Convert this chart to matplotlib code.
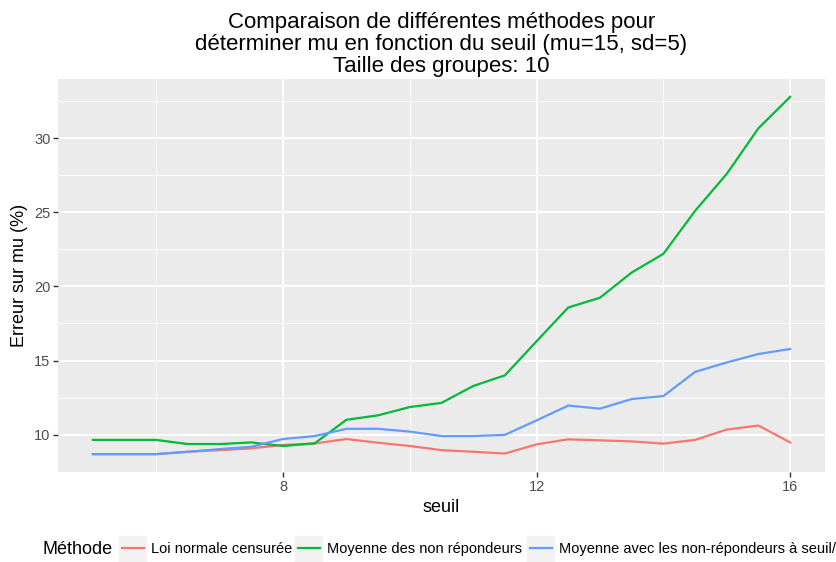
import matplotlib
matplotlib.use("Agg")
import matplotlib.pyplot as plt
from matplotlib.lines import Line2D
from matplotlib.patches import Rectangle

plt.rcParams['font.family'] = ['Liberation Sans', 'DejaVu Sans']

seuil = [5, 5.5, 6, 6.5, 7, 7.5, 8, 8.5, 9, 9.5, 10, 10.5, 11, 11.5, 12,
         12.5, 13, 13.5, 14, 14.5, 15, 15.5, 16]
loi_normale = [8.68, 8.68, 8.68, 8.84, 8.95, 9.07, 9.30, 9.40, 9.70, 9.45, 9.23,
               8.95, 8.84, 8.72, 9.34, 9.68, 9.61, 9.54, 9.39, 9.64, 10.34, 10.61, 9.47]
moy_non_rep = [9.64, 9.64, 9.64, 9.36, 9.36, 9.47, 9.23, 9.41, 11.0, 11.3, 11.86,
               12.14, 13.28, 14.0, 16.3, 18.58, 19.24, 20.94, 22.2, 25.1, 27.6, 30.68, 32.8]
moy_avec = [8.68, 8.68, 8.68, 8.84, 9.02, 9.18, 9.70, 9.90, 10.39, 10.39, 10.2,
            9.90, 9.90, 9.98, 10.96, 11.96, 11.75, 12.4, 12.6, 14.23, 14.87, 15.44, 15.78]

labels = ["Loi normale censurée", "Moyenne des non répondeurs",
          "Moyenne avec les non-répondeurs à seuil/"]
colors = ["#F8766D", "#00BA38", "#619CFF"]
series = [loi_normale, moy_non_rep, moy_avec]

W, H = 836, 562
fig = plt.figure(figsize=(W / 100, H / 100), dpi=100)
ax = fig.add_axes([58 / W, 1 - 472 / H, (825 - 58) / W, (472 - 79) / H])
ax.set_facecolor("#EBEBEB")
for s in ax.spines.values():
    s.set_visible(False)

for vals, c, lab in zip(series, colors, labels):
    ax.plot(seuil, vals, color=c, lw=1.6, label=lab, zorder=3)

xmin, xmax = min(seuil), max(seuil)
ymin = min(min(s) for s in series)
ymax = max(max(s) for s in series)
dx, dy = (xmax - xmin) * 0.05, (ymax - ymin) * 0.05
ax.set_xlim(xmin - dx, xmax + dx)
ax.set_ylim(ymin - dy, ymax + dy)

ax.set_xticks([8, 12, 16])
ax.set_xticks([6, 10, 14], minor=True)
ax.set_yticks([10, 15, 20, 25, 30])
ax.set_yticks([12.5, 17.5, 22.5, 27.5, 32.5], minor=True)
ax.grid(which='major', color='white', lw=1.3, zorder=1)
ax.grid(which='minor', color='white', lw=0.6, zorder=1)
ax.set_axisbelow(True)
ax.tick_params(which='major', length=3.5, width=1, color='#333333',
               labelcolor='#4D4D4D', labelsize=10.5, pad=2)
ax.tick_params(which='minor', length=0)

ax.set_xlabel("seuil", fontsize=13, labelpad=4)
ax.set_ylabel("Erreur sur mu (%)", fontsize=13, labelpad=4)
ax.set_title("Comparaison de différentes méthodes pour\n"
             "déterminer mu en fonction du seuil (mu=15, sd=5)\n"
             "Taille des groupes: 10", fontsize=16, linespacing=1.05, pad=5)

# legend
fig.text(42 / W, 1 - 549 / H, "Méthode", fontsize=13, va='center', ha='left')
box_x = [119, 295, 527]
for x0, c, lab in zip(box_x, colors, labels):
    fig.patches.append(Rectangle((x0 / W, 0), 27 / W, 26 / H,
                                 transform=fig.transFigure, color="#F2F2F2",
                                 zorder=-1))
    leg = fig.legend([Line2D([0], [0], color=c, lw=1.6)], [lab],
                     loc='center left', bbox_to_anchor=((x0 + 3) / W, 1 - 549 / H),
                     frameon=False, fontsize=10.5, handlelength=1.5,
                     handletextpad=0.48, borderaxespad=0, borderpad=0)

fig.savefig("out.png", dpi=100)
